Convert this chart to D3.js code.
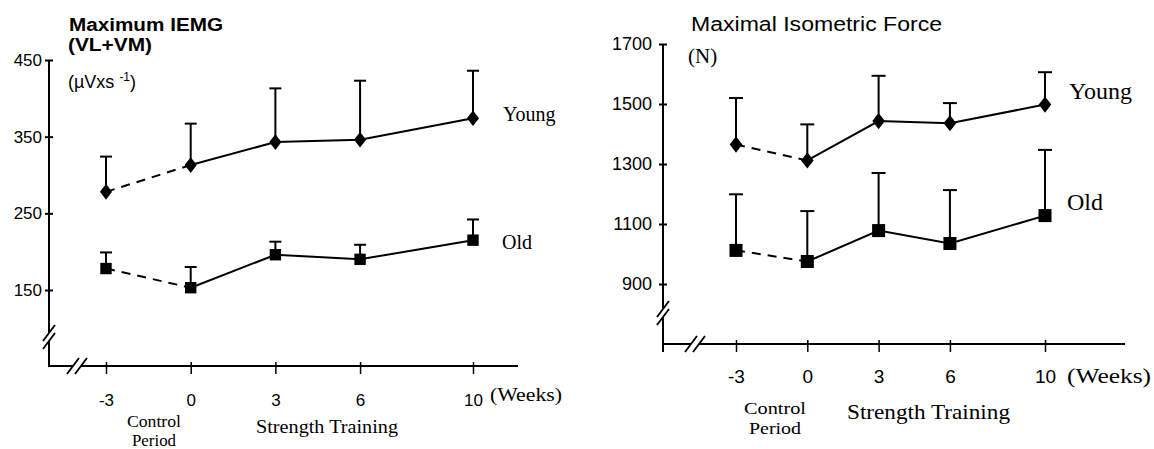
<!DOCTYPE html>
<html><head><meta charset="utf-8">
<script src="https://cdn.jsdelivr.net/npm/d3@7"></script>
<style>
html,body{margin:0;padding:0;background:#fff;}
svg{display:block;}
.sans{font-family:Arial,"Liberation Sans",sans-serif;}
.serif{font-family:"Times New Roman","Liberation Serif",serif;}
</style></head>
<body>
<svg id="c" width="1154" height="449"></svg>
<script>
// ---- data ----
const weeks = [-3, 0, 3, 6, 10];
const weekLabels = ["-3", "0", "3", "6", "10"];

const emgTicks = [150, 250, 350, 450];
const emgYoung = [278, 313, 343, 346, 374];
const emgYoungSD = [324, 367, 413, 423, 436];   // top of error bar
const emgOld = [178, 153, 196, 190, 215];
const emgOldSD = [199, 180, 213, 209, 242];

const forceTicks = [900, 1100, 1300, 1500, 1700];
const forceYoung = [1365, 1312, 1443, 1436, 1498];
const forceYoungSD = [1520, 1432, 1594, 1503, 1606];
const forceOld = [1012, 975, 1078, 1035, 1128];
const forceOldSD = [1199, 1143, 1270, 1213, 1347];

const svg = d3.select("#c");

function panel(cfg) {
  const g = svg.append("g");
  const x = d3.scaleLinear().domain([-3, 10]).range(cfg.xr);
  const y = d3.scaleLinear().domain(cfg.yd).range(cfg.yr);
  const ax = cfg.axX, ay = cfg.axY;

  g.append("line").attr("x1", ax).attr("x2", ax).attr("y1", cfg.yTop).attr("y2", ay + cfg.yOver)
    .attr("stroke", "#000").attr("stroke-width", 2);
  g.append("line").attr("x1", ax).attr("x2", cfg.xEnd).attr("y1", ay).attr("y2", ay)
    .attr("stroke", "#000").attr("stroke-width", 2);

  const yAxis = d3.axisLeft(y).tickValues(cfg.yTicks).tickSize(0).tickPadding(cfg.yPad).tickFormat(d3.format("d"));
  const ga = g.append("g").attr("transform", `translate(${ax},0)`).call(yAxis);
  ga.select(".domain").remove();
  ga.selectAll("text").attr("class", "sans").style("font-size", cfg.yFont + "px").attr("fill", "#000");
  ga.selectAll(".tick").append("line").attr("x1", -4).attr("x2", 4).attr("stroke", "#000").attr("stroke-width", 2);

  const xAxis = d3.axisBottom(x).tickValues(weeks).tickSize(0).tickPadding(cfg.xPad)
    .tickFormat((d, i) => weekLabels[i]);
  const gx = g.append("g").attr("transform", `translate(0,${ay})`).call(xAxis);
  gx.select(".domain").remove();
  gx.selectAll("text").attr("class", "sans").style("font-size", cfg.xFont + "px").attr("fill", "#000");
  gx.selectAll(".tick").append("line").attr("y1", -4).attr("y2", 8).attr("stroke", "#000").attr("stroke-width", 1.5);

  const brk = (cx, cy) => {
    g.append("line").attr("x1", cx - 6).attr("y1", cy + 8).attr("x2", cx + 6).attr("y2", cy - 8)
      .attr("stroke", "#000").attr("stroke-width", 1.8);
  };
  g.append("rect").attr("x", ax - 3).attr("y", cfg.yBrk - 4).attr("width", 6).attr("height", 8).attr("fill", "#fff");
  brk(ax, cfg.yBrk - 4); brk(ax, cfg.yBrk + 4);
  g.append("rect").attr("x", cfg.xBrk - 4).attr("y", ay - 3).attr("width", 8).attr("height", 6).attr("fill", "#fff");
  brk(cfg.xBrk - 4, ay); brk(cfg.xBrk + 4, ay);

  const drawSeries = (vals, sds, shape) => {
    const pts = weeks.map((w, i) => ({ w, v: vals[i], sd: sds[i] }));
    pts.forEach(p => {
      g.append("line").attr("x1", x(p.w)).attr("x2", x(p.w)).attr("y1", y(p.v)).attr("y2", y(p.sd))
        .attr("stroke", "#000").attr("stroke-width", 2);
      g.append("line").attr("x1", x(p.w) - cfg.cap).attr("x2", x(p.w) + cfg.cap).attr("y1", y(p.sd)).attr("y2", y(p.sd))
        .attr("stroke", "#000").attr("stroke-width", 2);
    });
    const line = d3.line().x(d => x(d.w)).y(d => y(d.v));
    g.append("path").attr("d", line(pts.slice(0, 2))).attr("fill", "none").attr("stroke", "#000")
      .attr("stroke-width", 2).attr("stroke-dasharray", "9,7");
    g.append("path").attr("d", line(pts.slice(1))).attr("fill", "none").attr("stroke", "#000")
      .attr("stroke-width", 2);
    const sym = d3.symbol().type(shape === "d" ? d3.symbolDiamond2 : d3.symbolSquare)
      .size(shape === "d" ? cfg.dSize : cfg.sSize);
    g.selectAll(null).data(pts).enter().append("path")
      .attr("d", sym).attr("fill", "#000")
      .attr("transform", d => `translate(${x(d.w)},${y(d.v)})${shape === "d" ? " scale(0.85,1.1)" : ""}`);
  };
  drawSeries(cfg.young, cfg.youngSD, "d");
  drawSeries(cfg.old, cfg.oldSD, "s");
  return g;
}

panel({
  xr: [106, 473], yd: [150, 450], yr: [290, 60], axX: 49, axY: 366, yTop: 60, yOver: 1, xEnd: 518,
  yTicks: emgTicks, yPad: 7, yFont: 17, xPad: 28, xFont: 17, yBrk: 337, xBrk: 77, cap: 6,
  dSize: 130, sSize: 130,
  young: emgYoung, youngSD: emgYoungSD, old: emgOld, oldSD: emgOldSD
});
panel({
  xr: [736, 1045], yd: [900, 1700], yr: [284, 44], axX: 663, axY: 344, yTop: 44, yOver: 8, xEnd: 1125,
  yTicks: forceTicks, yPad: 11, yFont: 18, xPad: 26, xFont: 19, yBrk: 313, xBrk: 695, cap: 7,
  dSize: 140, sSize: 170,
  young: forceYoung, youngSD: forceYoungSD, old: forceOld, oldSD: forceOldSD
});

function txt(x, y, s, cls, size, opts = {}) {
  const t = svg.append("text").attr("x", x).attr("y", y).attr("class", cls)
    .style("font-size", size + "px").attr("fill", "#000").text(s);
  if (opts.bold) t.style("font-weight", "bold");
  if (opts.anchor) t.attr("text-anchor", opts.anchor);
  if (opts.len) t.attr("textLength", opts.len).attr("lengthAdjust", "spacingAndGlyphs");
  return t;
}

// left panel texts
txt(69, 31, "Maximum IEMG", "sans", 18, { bold: true, len: 154 });
txt(68, 51, "(VL+VM)", "sans", 18, { bold: true, len: 84 });
const u = svg.append("text").attr("x", 68).attr("y", 88).attr("class", "sans").style("font-size", "18px").attr("fill", "#000");
u.append("tspan").text("(µVxs ");
u.append("tspan").attr("dy", -7).style("font-size", "12px").text("-1");
u.append("tspan").attr("dy", 7).text(")");
txt(490, 401, "(Weeks)", "serif", 19, { len: 72 });
txt(154, 427, "Control", "serif", 16, { anchor: "middle", len: 54 });
txt(154, 446, "Period", "serif", 16, { anchor: "middle", len: 44 });
txt(256, 433, "Strength Training", "serif", 18, { len: 142 });
txt(503, 121, "Young", "serif", 20);
txt(502, 249, "Old", "serif", 20);

// right panel texts
txt(691, 31, "Maximal Isometric Force", "sans", 20, { len: 251 });
txt(688, 63, "(N)", "serif", 21);
txt(1067, 383, "(Weeks)", "serif", 22, { len: 84 });
txt(775, 414, "Control", "serif", 17, { anchor: "middle", len: 62 });
txt(775, 434, "Period", "serif", 17, { anchor: "middle", len: 52 });
txt(847, 419, "Strength Training", "serif", 21, { len: 163 });
txt(1069, 99, "Young", "serif", 24);
txt(1067, 210, "Old", "serif", 24);
</script>
</body></html>
